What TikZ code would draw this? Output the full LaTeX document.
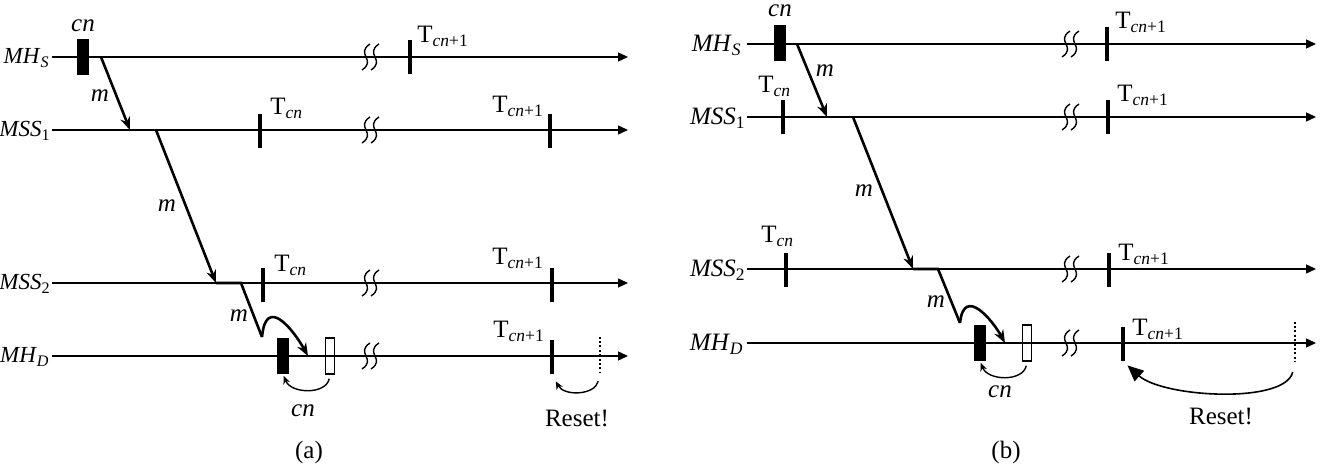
\documentclass[tikz,border=0pt]{standalone}
\usepackage{fontspec}
\setmainfont{Liberation Serif}
\usetikzlibrary{arrows.meta, positioning, calc}

\begin{document}
\begin{tikzpicture}[
x=0.5pt, y=-0.5pt,
>=Stealth,
every node/.style={font=\fontsize{12.5}{15}\selectfont, inner sep=0pt},
linelabel/.style={anchor=base east, font=\fontsize{11.5}{14}\selectfont},
axis/.style={draw, line width=0.7pt, -{Triangle[length=5pt,width=4.5pt]}},
msg/.style={draw, line width=1.3pt},
msgarrow/.style={msg, -{Stealth[length=6.5pt,width=5pt]}},
tick/.style={fill=black, minimum width=1.6pt, minimum height=17pt},
dottick/.style={minimum width=1.6pt, minimum height=18pt},
cnbox/.style={draw, fill=black, line width=0.6pt, minimum width=5pt, minimum height=17.5pt},
openbox/.style={draw, fill=white, line width=0.8pt, minimum width=4.5pt, minimum height=18pt},
cnarrow/.style={draw, line width=0.7pt, -{Stealth[length=4pt,width=3.5pt]}},
brk/.pic={
\draw[line width=0.7pt] (0,-13) .. controls (-15,-3) and (7,3) .. (-8,13);
\draw[line width=0.7pt] (9,-13) .. controls (-6,-3) and (16,3) .. (1,13);
}
]
\useasboundingbox (0,0) rectangle (1328,474);

% ---------------- (a) ----------------
% Lines
\coordinate (mhsA) at (52,57);   \coordinate (mhsAe) at (628,57);
\coordinate (mss1A) at (52,130); \coordinate (mss1Ae) at (628,130);
\coordinate (mss2A) at (52,283); \coordinate (mss2Ae) at (628,283);
\coordinate (mhdA) at (52,356);  \coordinate (mhdAe) at (628,356);

\node[linelabel] (lmhsA) at (50,64) {\textit{MH}\textsubscript{\textit{S}}};
\node[linelabel] (lmss1A) at (51,137) {\textit{MSS}\textsubscript{1}};
\node[linelabel] (lmss2A) at (51,290) {\textit{MSS}\textsubscript{2}};
\node[linelabel] (lmhdA) at (50,363) {\textit{MH}\textsubscript{\textit{D}}};

% Nodes
\node[cnbox] (cnA) at (83,57) {};
\node[anchor=base] (lcnA) at (83,32) {\textit{cn}};

\node[tick] (tA1) at (410,57) {};
\node[tick] (tA2) at (260,131) {};
\node[tick] (tA3) at (550,131) {};
\node[tick] (tA4) at (263,285) {};
\node[tick] (tA5) at (552,285) {};
\node[tick] (tA6) at (552,357) {};
\node[dottick] (dA) at (600,355) {};

\node[anchor=base west] at (417,43) {T\textsubscript{\textit{cn}+1}};
\node[anchor=base west] at (270,115) {T\textsubscript{\textit{cn}}};
\node[anchor=base west] at (492,113) {T\textsubscript{\textit{cn}+1}};
\node[anchor=base west] at (274,272) {T\textsubscript{\textit{cn}}};
\node[anchor=base west] at (492,265) {T\textsubscript{\textit{cn}+1}};
\node[anchor=base west] at (493,338) {T\textsubscript{\textit{cn}+1}};

\node[cnbox] (fA) at (283,356) {};
\node[openbox] (oA) at (330,356) {};

\coordinate (a1) at (101,57);
\coordinate (a2) at (130,130);
\coordinate (a3) at (156,130);
\coordinate (a4) at (216,283);
\coordinate (a5) at (241,283);
\coordinate (a6) at (262,337);
\coordinate (a7) at (308,356);

\node[anchor=base] at (100,102) {\textit{m}};
\node[anchor=base] at (167,212) {\textit{m}};
\node[anchor=base] at (239,322) {\textit{m}};
\node[anchor=base] at (303,417) {\textit{cn}};
\node[anchor=base] at (577,427) {Reset!};
\node (capA) at (309,452) {(a)};

% Connections
\draw[axis] (mhsA) -- (mhsAe);
\draw[axis] (mss1A) -- (mss1Ae);
\draw[axis] (mss2A) -- (mss2Ae);
\draw[axis] (mhdA) -- (mhdAe);
\pic at (370,57) {brk};
\pic at (370,130) {brk};
\pic at (370,283) {brk};
\pic at (370,356) {brk};

\draw[msgarrow] (a1) -- (a2);
\draw[msg] (a2) -- (a3);
\draw[msgarrow] (a3) -- (a4);
\draw[msg] (a4) -- (a5) -- (a6);
\draw[msgarrow] (a6) .. controls +(4,-43) and +(-14,-25) .. (a7);

\draw[cnarrow, shorten <=2pt, shorten >=1pt] (oA.south) .. controls +(-4,20) and +(8,20) .. (fA.south);
\draw[line width=1.4pt, dash pattern=on 1pt off 1.2pt] (dA.north) -- (dA.south);
\draw[cnarrow, shorten <=4pt, shorten >=4pt] (dA.south) .. controls +(-5,22) and +(12,22) .. (tA6.south);

% ---------------- (b) ----------------
% Lines
\coordinate (mhsB) at (747,44);   \coordinate (mhsBe) at (1316,44);
\coordinate (mss1B) at (747,117); \coordinate (mss1Be) at (1316,117);
\coordinate (mss2B) at (747,269); \coordinate (mss2Be) at (1316,269);
\coordinate (mhdB) at (747,343);  \coordinate (mhdBe) at (1316,343);

\node[linelabel, font=\fontsize{12.5}{15}\selectfont] (lmhsB) at (742,52) {\textit{MH}\textsubscript{\textit{S}}};
\node[linelabel, font=\fontsize{12.5}{15}\selectfont] (lmss1B) at (746,125) {\textit{MSS}\textsubscript{1}};
\node[linelabel, font=\fontsize{12.5}{15}\selectfont] (lmss2B) at (746,277) {\textit{MSS}\textsubscript{2}};
\node[linelabel, font=\fontsize{12.5}{15}\selectfont] (lmhdB) at (744,351) {\textit{MH}\textsubscript{\textit{D}}};

% Nodes
\node[cnbox] (cnB) at (780,43) {};
\node[anchor=base] (lcnB) at (780,17) {\textit{cn}};

\node[tick] (tB1) at (1107,44) {};
\node[tick] (tB2) at (783,117) {};
\node[tick] (tB3) at (1108,117) {};
\node[tick] (tB4) at (786,270) {};
\node[tick] (tB5) at (1109,270) {};
\node[tick] (tB6) at (1123,344) {};
\node[dottick, minimum height=20pt] (dB) at (1295,342) {};

\node[anchor=base west] at (1115,29) {T\textsubscript{\textit{cn}+1}};
\node[anchor=base west] at (758,93) {T\textsubscript{\textit{cn}}};
\node[anchor=base west] at (1117,102) {T\textsubscript{\textit{cn}+1}};
\node[anchor=base west] at (761,243) {T\textsubscript{\textit{cn}}};
\node[anchor=base west] at (1118,261) {T\textsubscript{\textit{cn}+1}};
\node[anchor=base west] at (1132,336) {T\textsubscript{\textit{cn}+1}};

\node[cnbox] (fB) at (980,343) {};
\node[openbox] (oB) at (1027,343) {};

\coordinate (b1) at (797,44);
\coordinate (b2) at (827,117);
\coordinate (b3) at (853,117);
\coordinate (b4) at (913,269);
\coordinate (b5) at (938,269);
\coordinate (b6) at (960,323);
\coordinate (b7) at (1005,343);

\node[anchor=base] at (825,77) {\textit{m}};
\node[anchor=base] at (864,197) {\textit{m}};
\node[anchor=base] at (936,308) {\textit{m}};
\node[anchor=base] at (1000,398) {\textit{cn}};
\node[anchor=base] at (1221,425) {Reset!};
\node (capB) at (1006,452) {(b)};

% Connections
\draw[axis] (mhsB) -- (mhsBe);
\draw[axis] (mss1B) -- (mss1Be);
\draw[axis] (mss2B) -- (mss2Be);
\draw[axis] (mhdB) -- (mhdBe);
\pic at (1070,44) {brk};
\pic at (1070,117) {brk};
\pic at (1070,269) {brk};
\pic at (1070,343) {brk};

\draw[msgarrow] (b1) -- (b2);
\draw[msg] (b2) -- (b3);
\draw[msgarrow] (b3) -- (b4);
\draw[msg] (b4) -- (b5) -- (b6);
\draw[msgarrow] (b6) .. controls +(4,-38) and +(-12,-22) .. (b7);

\draw[cnarrow, shorten <=2pt, shorten >=1pt] (oB.south) .. controls +(-4,20) and +(8,20) .. (fB.south);
\draw[line width=1.4pt, dash pattern=on 1pt off 1.2pt] (dB.north) -- (dB.south);
\draw[line width=0.8pt, -{Triangle[length=8pt,width=7pt]}, shorten <=5pt, shorten >=3pt]
  (dB.south) .. controls +(-10,42) and +(40,36) .. (tB6.south);

\end{tikzpicture}
\end{document}
